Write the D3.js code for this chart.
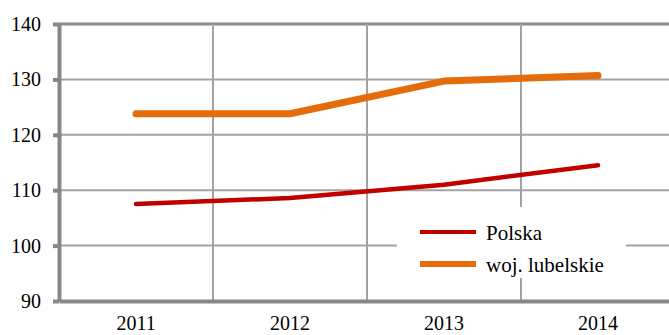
<!DOCTYPE html>
<html>
<head>
<meta charset="utf-8">
<script src="https://cdn.jsdelivr.net/npm/d3@7"></script>
<style>
  html, body { margin: 0; padding: 0; background: #fff; }
  svg { display: block; }
  svg text { font-family: "Liberation Serif", "Times New Roman", serif !important; fill: #000; }
</style>
</head>
<body>
<svg id="chart" width="669" height="335"></svg>
<script>
// Index values, 2011–2014
const years = ["2011", "2012", "2013", "2014"];
const polska = [107.5, 108.6, 111.0, 114.5];
const lubelskie = [123.8, 123.8, 129.7, 130.7];
const yTicks = [90, 100, 110, 120, 130, 140];
const seriesNames = ["Polska", "woj. lubelskie"];
const seriesColors = ["#C00000", "#E46C0A"];

const serif = "'Liberation Serif', 'Times New Roman', serif";
const svg = d3.select("#chart");

const x = d3.scaleBand().domain(years).range([59, 675]).paddingInner(0).paddingOuter(0);
const y = d3.scaleLinear().domain([90, 140]).range([301, 24]);

// horizontal gridlines
svg.append("g").selectAll("line")
  .data(yTicks.filter(d => d > 90))
  .join("line")
  .attr("x1", 59).attr("x2", 669)
  .attr("y1", d => y(d)).attr("y2", d => y(d))
  .attr("stroke", d => d === 140 ? "#8c8c8c" : "#a3a3a3")
  .attr("stroke-width", d => d === 140 ? 3 : 2);

// vertical gridlines at category boundaries
svg.append("g").selectAll("line")
  .data(years.slice(1))
  .join("line")
  .attr("x1", d => x(d)).attr("x2", d => x(d))
  .attr("y1", y(140)).attr("y2", y(90))
  .attr("stroke", "#a3a3a3")
  .attr("stroke-width", 2);

// y axis
const yAxis = d3.axisLeft(y).tickValues(yTicks).tickSize(6).tickSizeOuter(0).tickPadding(12);
const gy = svg.append("g").attr("transform", "translate(59,0)").call(yAxis)
  .attr("font-family", null).attr("font-size", null);
gy.select(".domain").attr("stroke", "#878787").attr("stroke-width", 4);
gy.selectAll(".tick line").attr("stroke", "#878787").attr("stroke-width", 4);
gy.selectAll(".tick text")
  .style("font-family", serif)
  .style("font-size", "20px").attr("fill", "#000");

// x axis
const xAxis = d3.axisBottom(x).tickSize(0).tickSizeOuter(0).tickPadding(15);
const gx = svg.append("g").attr("transform", "translate(0,301)").call(xAxis)
  .attr("font-family", null).attr("font-size", null);
gx.select(".domain").attr("stroke", "#878787").attr("stroke-width", 4);
gx.selectAll(".tick text")
  .style("font-family", serif)
  .style("font-size", "20px").attr("fill", "#000");

// data lines
const line = d3.line()
  .x((d, i) => x(years[i]) + x.bandwidth() / 2)
  .y(d => y(d));

svg.append("path")
  .datum(lubelskie)
  .attr("d", line)
  .attr("fill", "none")
  .attr("stroke", seriesColors[1])
  .attr("stroke-width", 7)
  .attr("stroke-linecap", "round")
  .attr("stroke-linejoin", "round");

svg.append("path")
  .datum(polska)
  .attr("d", line)
  .attr("fill", "none")
  .attr("stroke", seriesColors[0])
  .attr("stroke-width", 4.5)
  .attr("stroke-linecap", "round")
  .attr("stroke-linejoin", "round");

// legend
const legend = svg.append("g");
legend.append("rect")
  .attr("x", 397).attr("y", 207).attr("width", 229).attr("height", 71)
  .attr("fill", "#fff");
const items = legend.selectAll("g.item")
  .data(seriesNames)
  .join("g")
  .attr("class", "item")
  .attr("transform", (d, i) => `translate(0,${232 + i * 32})`);
items.append("line")
  .attr("x1", 420).attr("x2", 476)
  .attr("y1", 0).attr("y2", 0)
  .attr("stroke", (d, i) => seriesColors[i])
  .attr("stroke-width", (d, i) => i === 0 ? 4 : 6);
items.append("text")
  .attr("x", 486).attr("y", 8)
  .style("font-family", serif)
  .style("font-size", "21px")
  .text(d => d);
</script>
</body>
</html>
